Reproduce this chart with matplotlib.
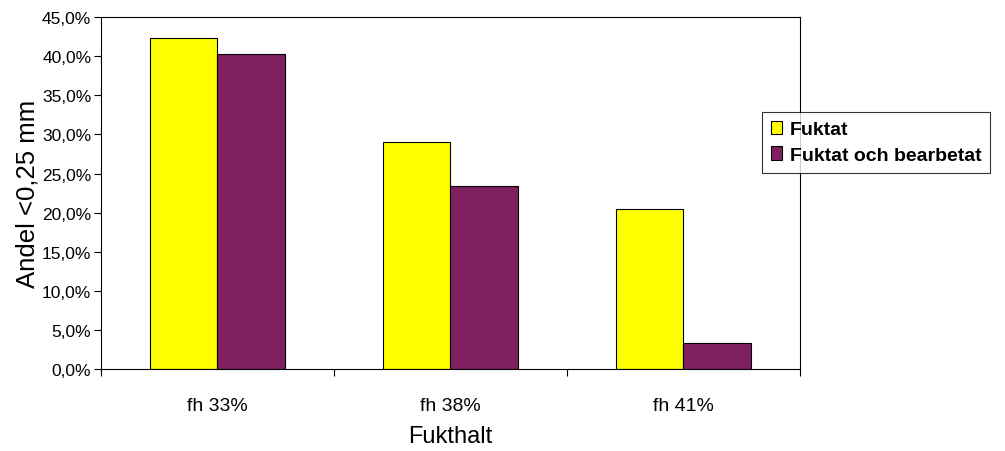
import numpy as np
import matplotlib.pyplot as plt
from matplotlib.ticker import FuncFormatter, FixedLocator, NullFormatter

plt.rcParams['font.family'] = ['Liberation Sans', 'DejaVu Sans']

categories = ['fh 33%', 'fh 38%', 'fh 41%']
fuktat = [42.3, 29.0, 20.5]
fuktat_bearbetat = [40.3, 23.4, 3.3]

x = np.arange(len(categories))
w = 0.288

fig = plt.figure(figsize=(10.05, 4.52), dpi=100)
ax = fig.add_axes([0.1005, 0.181, 0.6955, 0.779])

ax.bar(x - w / 2, fuktat, w, color='#FFFF00', edgecolor='black', linewidth=0.8, label='Fuktat')
ax.bar(x + w / 2, fuktat_bearbetat, w, color='#802060', edgecolor='black', linewidth=0.8,
       label='Fuktat och bearbetat')

ax.set_xlim(-0.5, len(categories) - 0.5)
ax.set_ylim(0, 45)
ax.set_yticks(np.arange(0, 46, 5))
ax.yaxis.set_major_formatter(FuncFormatter(lambda v, p: f'{v:.1f}%'.replace('.', ',')))

# category labels centred, tick marks on group boundaries
ax.set_xticks(x)
ax.set_xticklabels(categories)
ax.tick_params(axis='x', which='major', length=0, pad=20, labelsize=14)
ax.xaxis.set_minor_locator(FixedLocator(np.arange(-0.5, len(categories), 1.0)))
ax.xaxis.set_minor_formatter(NullFormatter())
ax.tick_params(axis='x', which='minor', length=5, width=0.8, direction='out')
ax.tick_params(axis='y', length=5, width=0.8, direction='out', labelsize=12.5, pad=2)

for s in ax.spines.values():
    s.set_linewidth(0.8)
    s.set_color('black')

ax.set_xlabel('Fukthalt', fontsize=17, labelpad=8)
ax.set_ylabel('Andel <0,25 mm', fontsize=18.5, labelpad=2)

leg = fig.legend(loc='upper left', bbox_to_anchor=(0.758, 0.75), borderaxespad=0,
                 prop={'weight': 'bold', 'size': 14},
                 frameon=True, fancybox=False, edgecolor='black', handlelength=0.6, handleheight=0.7,
                 handletextpad=0.4, labelspacing=0.4, borderpad=0.45)
leg.get_frame().set_linewidth(0.8)

fig.savefig('out.png', dpi=100)
